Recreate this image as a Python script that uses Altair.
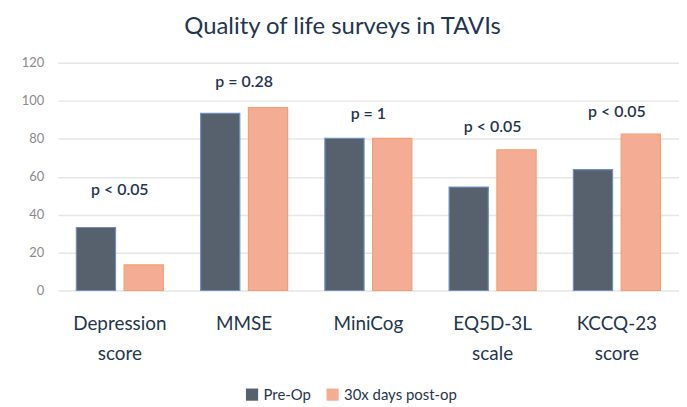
import altair as alt
import pandas as pd

categories = ["Depression\nscore", "MMSE", "MiniCog", "EQ5D-3L\nscale", "KCCQ-23\nscore"]
series = ["Pre-Op", "30x days post-op"]
pre_op = [33.2, 93.4, 80.2, 54.5, 63.7]
post_op = [13.5, 96.4, 80.2, 74.2, 82.4]
p_labels = ["p < 0.05", "p = 0.28", "p = 1", "p < 0.05", "p < 0.05"]
p_label_y = [53, 110, 93, 86, 94]

rows = []
for c, a, b in zip(categories, pre_op, post_op):
    rows.append({"cat": c, "series": series[0], "value": a})
    rows.append({"cat": c, "series": series[1], "value": b})
df = pd.DataFrame(rows)
df_p = pd.DataFrame({"cat": categories, "label": p_labels, "value": p_label_y})

FONT = "Lato"
NAVY = "#1f3550"

x_axis = alt.Axis(title=None, labelAngle=0, labelExpr="split(datum.value, '\\n')",
                  labelFontSize=19, labelColor=NAVY, labelFont=FONT,
                  labelPadding=24, labelLineHeight=30, labelOverlap=False,
                  ticks=False, domain=False, labelBaseline="top")
x_scale = alt.Scale(paddingInner=0.3, paddingOuter=0.15)
y_axis = alt.Axis(title=None, values=[0, 20, 40, 60, 80, 100, 120],
                  labelFontSize=13, labelColor="#8a8a8a", labelFont=FONT,
                  labelPadding=14, ticks=False, domain=False, labelOverlap=False,
                  gridColor="#e6e6e6", gridWidth=1.5)
y_scale = alt.Scale(domain=[0, 120])

bars = alt.Chart(df).mark_bar(strokeWidth=1.2).encode(
    x=alt.X("cat:N", sort=categories, scale=x_scale, axis=x_axis),
    xOffset=alt.XOffset("series:N", sort=series, scale=alt.Scale(paddingInner=0.18)),
    y=alt.Y("value:Q", scale=y_scale, axis=y_axis),
    color=alt.Color("series:N", sort=series,
                    scale=alt.Scale(domain=series, range=["#56616d", "#f4ad94"]),
                    legend=alt.Legend(title=None, orient="none", direction="horizontal",
                                      legendX=188, legendY=326, symbolType="square",
                                      symbolSize=150, labelFontSize=15, labelColor=NAVY,
                                      labelFont=FONT, columnPadding=14,
                                      symbolStrokeWidth=0)),
    stroke=alt.Stroke("series:N", sort=series,
                      scale=alt.Scale(domain=series, range=["#6f8fbf", "#f0a070"]),
                      legend=None),
)

texts = alt.Chart(df_p).mark_text(fontSize=16, color=NAVY, font=FONT, fontWeight=600).encode(
    x=alt.X("cat:N", sort=categories, scale=x_scale, axis=x_axis),
    y=alt.Y("value:Q", scale=y_scale, axis=y_axis),
    text="label:N",
)

chart = alt.layer(bars, texts).properties(
    width=625, height=229,
    padding={"left": 13, "top": 6, "right": 0, "bottom": 0},
    title=alt.TitleParams("Quality of life surveys in TAVIs", fontSize=24, color=NAVY,
                          font=FONT, fontWeight="normal", anchor="middle", offset=18,
                          dx=-26),
).configure_view(stroke=None)

chart.save("out.html", embed_options={"renderer": "svg", "actions": False})
